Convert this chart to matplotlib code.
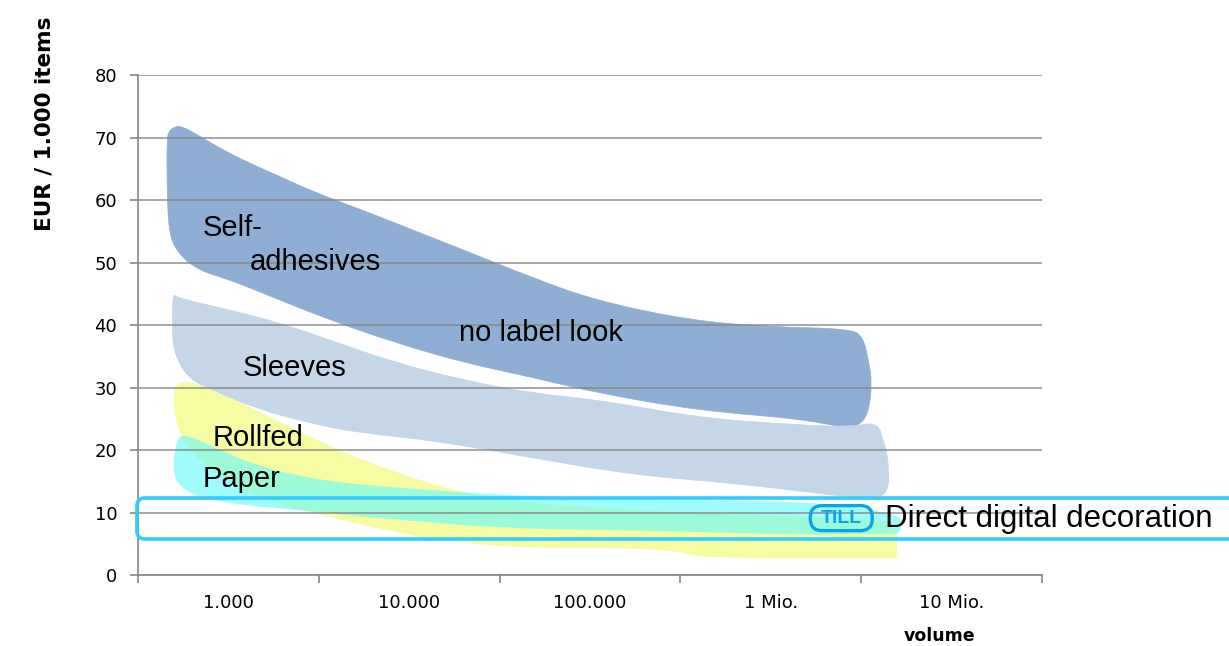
import numpy as np
import matplotlib
matplotlib.use('Agg')
import matplotlib.pyplot as plt
from matplotlib.patches import PathPatch, FancyBboxPatch
from matplotlib.path import Path

# x = log10(volume), y = EUR / 1.000 items
cats = ['1.000', '10.000', '100.000', '1 Mio.', '10 Mio.']
cat_pos = [3, 4, 5, 6, 7]
bounds = [2.5, 3.5, 4.5, 5.5, 6.5, 7.5]

# outlines of the cost areas
self_x = [2.66, 2.67, 2.705, 2.75, 2.83, 2.94, 3.10, 3.29, 3.47, 3.74, 4.02, 4.30, 4.67, 5.02,
          5.54, 5.98, 6.44, 6.51, 6.54, 6.56, 6.54, 6.49, 6.42, 6.16, 5.61, 5.06, 4.67, 4.30,
          3.93, 3.56, 3.19, 3.01, 2.83, 2.72, 2.67, 2.66]
self_y = [69.6, 71.0, 71.8, 71.7, 70.4, 68.5, 66.1, 63.7, 61.3, 58.4, 55.2, 52.0, 47.7, 44.0,
          40.8, 39.7, 39.4, 38.1, 34.4, 30.7, 25.9, 24.0, 23.5, 25.0, 26.3, 29.0, 31.7, 34.0,
          37.1, 40.8, 45.1, 47.2, 48.8, 51.5, 54.7, 62.7]

sleeve_x = [2.69, 2.72, 3.01, 3.29, 3.56, 3.93, 4.30, 4.67, 5.06, 5.61, 6.16, 6.44, 6.59, 6.62,
            6.64, 6.654, 6.648, 6.60, 6.565, 6.34, 5.79, 5.24, 4.67, 4.12, 3.73, 3.45, 3.18,
            2.90, 2.77, 2.70, 2.69]
sleeve_y = [45.1, 44.3, 42.4, 40.3, 37.6, 33.9, 31.2, 29.1, 28.0, 25.1, 24.0, 23.7, 24.5, 21.6,
            20.0, 16.3, 13.6, 12.3, 12.0, 12.8, 14.7, 16.0, 18.8, 21.6, 22.7, 24.3, 26.4,
            29.6, 31.7, 35.5, 38.7]

roll_x = [2.705, 2.75, 2.83, 3.01, 3.19, 3.56, 3.93, 4.30, 4.67, 5.06, 5.61, 6.16, 6.60, 6.698,
          6.698, 6.698, 6.698, 5.61, 5.50, 5.24, 4.67, 4.30, 3.93, 3.56, 3.19, 2.99, 2.86, 2.77,
          2.716, 2.694]
roll_y = [30.4, 30.9, 30.7, 28.3, 25.9, 20.5, 16.3, 13.1, 11.5, 10.7, 9.9, 9.3, 8.8, 8.3,
          6.4, 2.7, 2.7, 2.7, 3.8, 4.3, 4.3, 5.1, 6.7, 9.3, 12.0, 15.2, 17.9, 20.5,
          23.7, 27.5]

paper_x = [2.73, 2.80, 2.99, 3.18, 3.45, 3.73, 4.12, 4.50, 5.06, 5.61, 6.16, 6.44, 6.60, 6.715,
           6.726, 6.698, 6.60, 6.16, 5.61, 5.06, 4.50, 3.95, 3.56, 3.19, 2.99, 2.80, 2.716,
           2.694, 2.705]
paper_y = [22.4, 22.1, 19.5, 17.3, 15.5, 14.4, 13.6, 12.8, 12.3, 12.0, 11.7, 11.0, 10.2, 9.4,
           7.7, 6.4, 6.6, 6.4, 6.9, 7.2, 7.5, 8.8, 9.9, 10.9, 11.5, 12.8, 14.7, 16.8, 20.5]

# labels: (text, x, y)
labels = [('Self-', 2.86, 55.5), ('adhesives', 3.12, 50.1), ('no label look', 4.275, 38.7),
          ('Sleeves', 3.08, 33.1), ('Rollfed', 2.91, 21.9), ('Paper', 2.86, 15.4)]


def blob(xs, ys):
    # closed outline drawn with quadratic curves, outline points used as control points
    p = np.column_stack([xs, ys])
    n = len(p)
    mids = (p + np.roll(p, -1, axis=0)) / 2
    verts = [mids[-1]]
    codes = [Path.MOVETO]
    for i in range(n):
        verts += [p[i], mids[i]]
        codes += [Path.CURVE3, Path.CURVE3]
    verts.append(mids[-1])
    codes.append(Path.CLOSEPOLY)
    return Path(verts, codes)


fig = plt.figure(figsize=(12.29, 6.46), dpi=100)
ax = fig.add_axes([0.1123, 0.1099, 0.7356, 0.774])

ax.add_patch(PathPatch(blob(self_x, self_y), fc='#8FAED4', ec='#8FAED4', lw=0.5, zorder=1))
ax.add_patch(PathPatch(blob(sleeve_x, sleeve_y), fc='#C5D6E8', ec='#C5D6E8', lw=0.5, zorder=1))
ax.add_patch(PathPatch(blob(roll_x, roll_y), fc='#F6FCA2', ec='none', zorder=1.1))
ax.add_patch(PathPatch(blob(paper_x, paper_y), fc=(0.40, 0.98, 0.98), alpha=0.62, ec='none', zorder=1.2))

ax.set_xlim(2.5, 7.5)
ax.set_ylim(0, 80)
ax.set_xticks(bounds)
ax.set_xticklabels([])
ax.set_xticks(cat_pos, minor=True)
ax.set_xticklabels(cats, minor=True)
ax.set_yticks(range(0, 81, 10))

gray = '#868686'
ax.set_axisbelow(False)
ax.yaxis.grid(True, color=gray, lw=1.2, alpha=0.85)
for s in ['top', 'right']:
    ax.spines[s].set_visible(False)
for s in ['left', 'bottom']:
    ax.spines[s].set_color(gray)
    ax.spines[s].set_linewidth(1.2)
ax.tick_params(axis='x', which='major', length=6, color=gray, width=1.2)
ax.tick_params(axis='x', which='minor', length=0, pad=14, labelsize=13)
ax.tick_params(axis='y', length=6, color=gray, width=1.2, pad=9, labelsize=13)

for t, x, y in labels:
    ax.text(x, y, t, fontsize=21, family='Liberation Sans', va='center', ha='left', zorder=5)

# highlight box for direct digital decoration
asp = (1 / 6.25) / (1 / 180.8)
box = FancyBboxPatch((2.494, 5.76), 6.2, 6.56, boxstyle='round,pad=0,rounding_size=0.045',
                     mutation_aspect=asp, fc='none', ec='#33CCFF', lw=2.6, zorder=6, clip_on=False)
ax.add_patch(box)
pill = FancyBboxPatch((6.218, 7.1), 0.343, 4.0, boxstyle='round,pad=0,rounding_size=0.066',
                      mutation_aspect=asp, fc='none', ec='#0BA3EA', lw=2.4, zorder=6, clip_on=False)
ax.add_patch(pill)
ax.text(6.39, 9.05, 'TILL', color='#0BA3EA', fontsize=14, fontweight='bold', ha='center', va='center',
        family='Liberation Sans', zorder=7, clip_on=False)
ax.text(6.632, 9.0, 'Direct digital decoration', fontsize=22.5, family='Liberation Sans',
        ha='left', va='center', zorder=7, clip_on=False)

fig.text(45 / 1229, 1 - 124 / 646, 'EUR / 1.000 items', rotation=90, fontsize=15.5, fontweight='bold',
         ha='center', va='center')
fig.text(940 / 1229, 1 - 636 / 646, 'volume', fontsize=12.5, fontweight='bold', ha='center', va='center')

fig.savefig('out.png', dpi=100)
